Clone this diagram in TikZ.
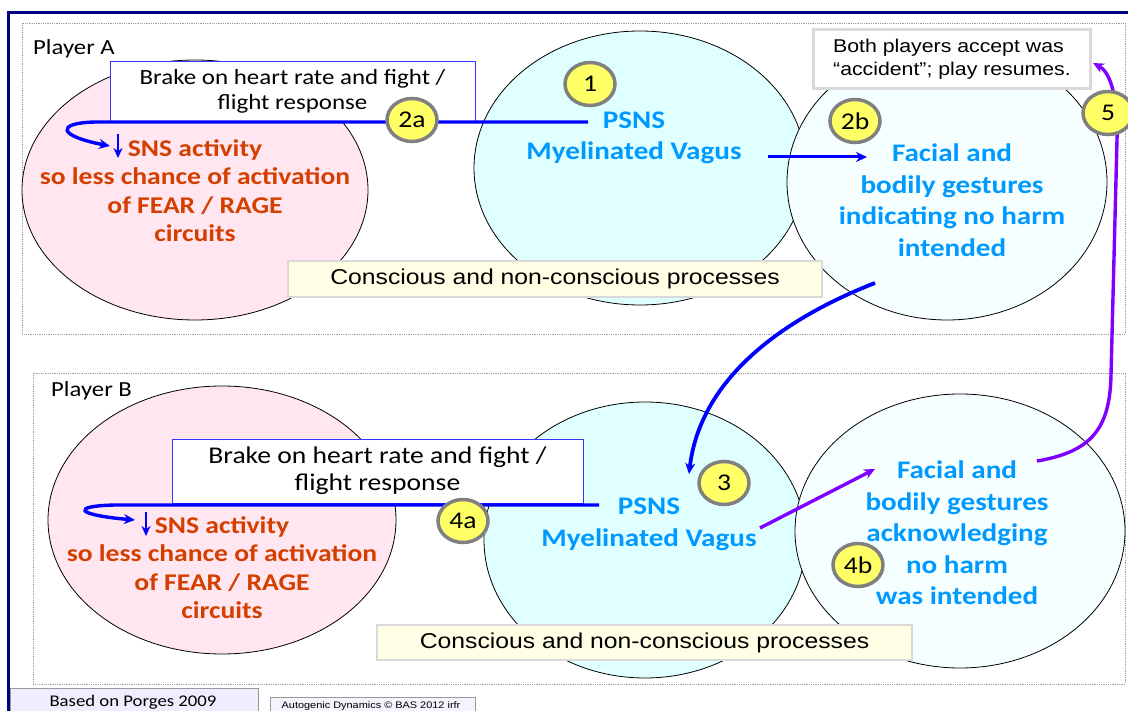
\documentclass[tikz,border=0pt]{standalone}
\usepackage{fontspec}
\setmainfont{Carlito}[FakeStretch=1.15]
\newfontfamily\arialf{Liberation Sans}[FakeStretch=1.15]
\usetikzlibrary{shapes.geometric,arrows.meta}
\definecolor{navyf}{HTML}{000080}
\definecolor{pinkf}{HTML}{FFE6F0}
\definecolor{cyanA}{HTML}{E0FFFF}
\definecolor{cyanB}{HTML}{F5FFFF}
\definecolor{redt}{HTML}{D43F00}
\definecolor{bluet}{HTML}{0099FF}
\definecolor{lineblue}{HTML}{0000FF}
\definecolor{purp}{HTML}{8000FF}
\definecolor{badgey}{HTML}{FFFF66}
\definecolor{badgeg}{HTML}{808080}
\definecolor{consc}{HTML}{FFFFE5}
\definecolor{boxg}{HTML}{D9D9D9}
\definecolor{brakeb}{HTML}{3333FF}
\definecolor{lavf}{HTML}{EEEEFF}
\definecolor{lavg}{HTML}{F4F4FF}
\begin{document}
\begin{tikzpicture}[x=1pt,y=-1pt,
  bubble/.style={ellipse, draw=black, line width=0.8pt, inner sep=0},
  badge/.style={ellipse, draw=badgeg, line width=3.5pt, fill=badgey, minimum width=50pt, minimum height=43pt, inner sep=0, font=\fontsize{24}{28}\selectfont},
  brakebox/.style={draw=brakeb, line width=0.8pt, fill=white, align=center, inner sep=0},
  consbox/.style={draw=boxg, line width=1.2pt, fill=consc, inner sep=0, font=\arialf\fontsize{21.5}{25}\selectfont},
  redtext/.style={text=redt, font=\bfseries\fontsize{24}{28.5}\selectfont, align=center, inner sep=0},
  bluetext/.style={text=bluet, font=\bfseries\fontsize{25.3}{31.5}\selectfont, align=center, inner sep=0},
  playerlbl/.style={anchor=west, inner sep=0, font=\fontsize{21.5}{25}\selectfont},
  bluethick/.style={draw=lineblue, line width=3.4pt},
  purpthick/.style={draw=purp, line width=3.4pt},
  tipb/.style={-{Stealth[length=11pt,width=10pt]}},
  playerbox/.style={draw=gray!75, densely dotted, line width=0.8pt}
]
\useasboundingbox (0,0) rectangle (1128,711);
\fill[white] (0,0) rectangle (1128,711);

% frames
\draw[navyf, line width=3pt] (8,711) -- (8,13) -- (1128,13);
\draw[playerbox] (22,23) rectangle (1125,334);
\draw[playerbox] (33,373) rectangle (1125,684);
\node[playerlbl] (plA) at (33,49) {Player A};
\node[playerlbl] (plB) at (51,391) {Player B};

% ---------- Player A ----------
\node[bubble, fill=pinkf, minimum width=346pt, minimum height=260pt] (pinkA) at (195,190) {};
\node[bubble, fill=cyanA, minimum width=332pt, minimum height=274pt] (psnsA) at (640,168) {};
\node[bubble, fill=cyanB, minimum width=320pt, minimum height=276pt] (faceA) at (947,182) {};
\node[brakebox, minimum width=365pt, minimum height=60pt, font=\fontsize{21.7}{25}\selectfont] (brakeA) at (292.5,91) {Brake on heart rate and fight /\\flight response};
\node[consbox, minimum width=534pt, minimum height=36pt] (consA) at (555,279) {Conscious and non-conscious processes};
\node[draw=boxg, line width=3.5pt, fill=white, minimum width=277pt, minimum height=59pt, align=left, inner sep=0, font=\arialf\fontsize{18.5}{23}\selectfont] (accept) at (952,59) {Both players accept was\\“accident”; play resumes.};
\node[redtext] (snsA) at (195,190.75) {SNS activity\\so less chance of activation\\of FEAR / RAGE\\circuits};
\node[bluetext] (vagA) at (634,138) {PSNS\\Myelinated Vagus};
\node[bluetext] (gestA) at (952,200) {Facial and\\bodily gestures\\indicating no harm\\intended};

% ---------- Player B ----------
\node[bubble, fill=pinkf, minimum width=348pt, minimum height=268pt] (pinkB) at (222,520) {};
\node[bubble, fill=cyanA, minimum width=322pt, minimum height=276pt] (psnsB) at (645,540) {};
\node[bubble, fill=cyanB, minimum width=330pt, minimum height=274pt] (faceB) at (960,531) {};
\node[brakebox, minimum width=411pt, minimum height=64pt, font=\fontsize{24}{27}\selectfont] (brakeB) at (377.5,471) {Brake on heart rate and fight /\\flight response};
\node[consbox, minimum width=535pt, minimum height=35pt] (consB) at (644.5,642.5) {Conscious and non-conscious processes};
\node[redtext] (snsB) at (222,567.5) {SNS activity\\so less chance of activation\\of FEAR / RAGE\\circuits};
\node[bluetext] (vagB) at (649,524.5) {PSNS\\Myelinated Vagus};
\node[bluetext] (gestB) at (957,533) {Facial and\\bodily gestures\\acknowledging\\no harm\\was intended};

% ---------- connectors ----------
\coordinate (a2s) at (588,122);
\coordinate (a2e) at (110,146);
\draw[bluethick, tipb] (a2s) -- (95,122) .. controls (55,123) and (58,136) .. (a2e);
\coordinate (dA1) at (118,134);
\coordinate (dA2) at (118,158);
\draw[draw=lineblue, line width=2.4pt, -{Stealth[length=10pt,width=9pt]}] (dA1) -- (dA2);

\coordinate (b4s) at (599,505);
\coordinate (b4e) at (135,520);
\draw[bluethick, tipb] (b4s) -- (115,505) .. controls (70,506) and (76,515) .. (b4e);
\coordinate (dB1) at (146,512);
\coordinate (dB2) at (146,536);
\draw[draw=lineblue, line width=2.4pt, -{Stealth[length=10pt,width=9pt]}] (dB1) -- (dB2);

\coordinate (vfs) at (768,157);
\coordinate (vfe) at (867,157);
\draw[draw=lineblue, line width=3pt, tipb] (vfs) -- (vfe);

\coordinate (abs) at (875,283);
\coordinate (abe) at (689,474);
\draw[draw=lineblue, line width=3.8pt, tipb] (abs) .. controls (780,320) and (700,380) .. (abe);

\coordinate (pvs) at (760,528);
\coordinate (pve) at (875,469);
\draw[purpthick, tipb] (pvs) -- (pve);

\coordinate (p5s) at (1037,461);
\coordinate (p5e) at (1093,63);
\draw[purpthick, tipb] (p5s) .. controls (1090,452) and (1110,430) .. (1111,375) -- (1117,140) .. controls (1118,95) and (1110,72) .. (p5e);

% ---------- badges ----------
\node[badge] (b1) at (590,84) {1};
\node[badge] (b2a) at (412,120) {2a};
\node[badge] (b2b) at (855,121) {2b};
\node[badge] (b5) at (1108,113) {5};
\node[badge] (b3) at (724,483) {3};
\node[badge] (b4a) at (463,521) {4a};
\node[badge] (b4b) at (858,565) {4b};

% ---------- footer ----------
\node[draw=gray!80, line width=1pt, fill=lavf, minimum width=248pt, minimum height=30pt, anchor=north west, inner sep=0] (porgesbox) at (10,688) {};
\node[anchor=base, inner sep=0, font=\fontsize{16.3}{19}\selectfont] (porges) at (133,706) {Based on Porges 2009};
\node[draw=gray!80, line width=1pt, fill=lavg, minimum width=205pt, minimum height=22pt, anchor=north west, inner sep=0] (autobox) at (270,697) {};
\node[anchor=base, inner sep=0, font=\arialf\fontsize{9.5}{11}\selectfont] (auto) at (371,708.5) {Autogenic Dynamics © BAS 2012 irfr};
\end{tikzpicture}
\end{document}
